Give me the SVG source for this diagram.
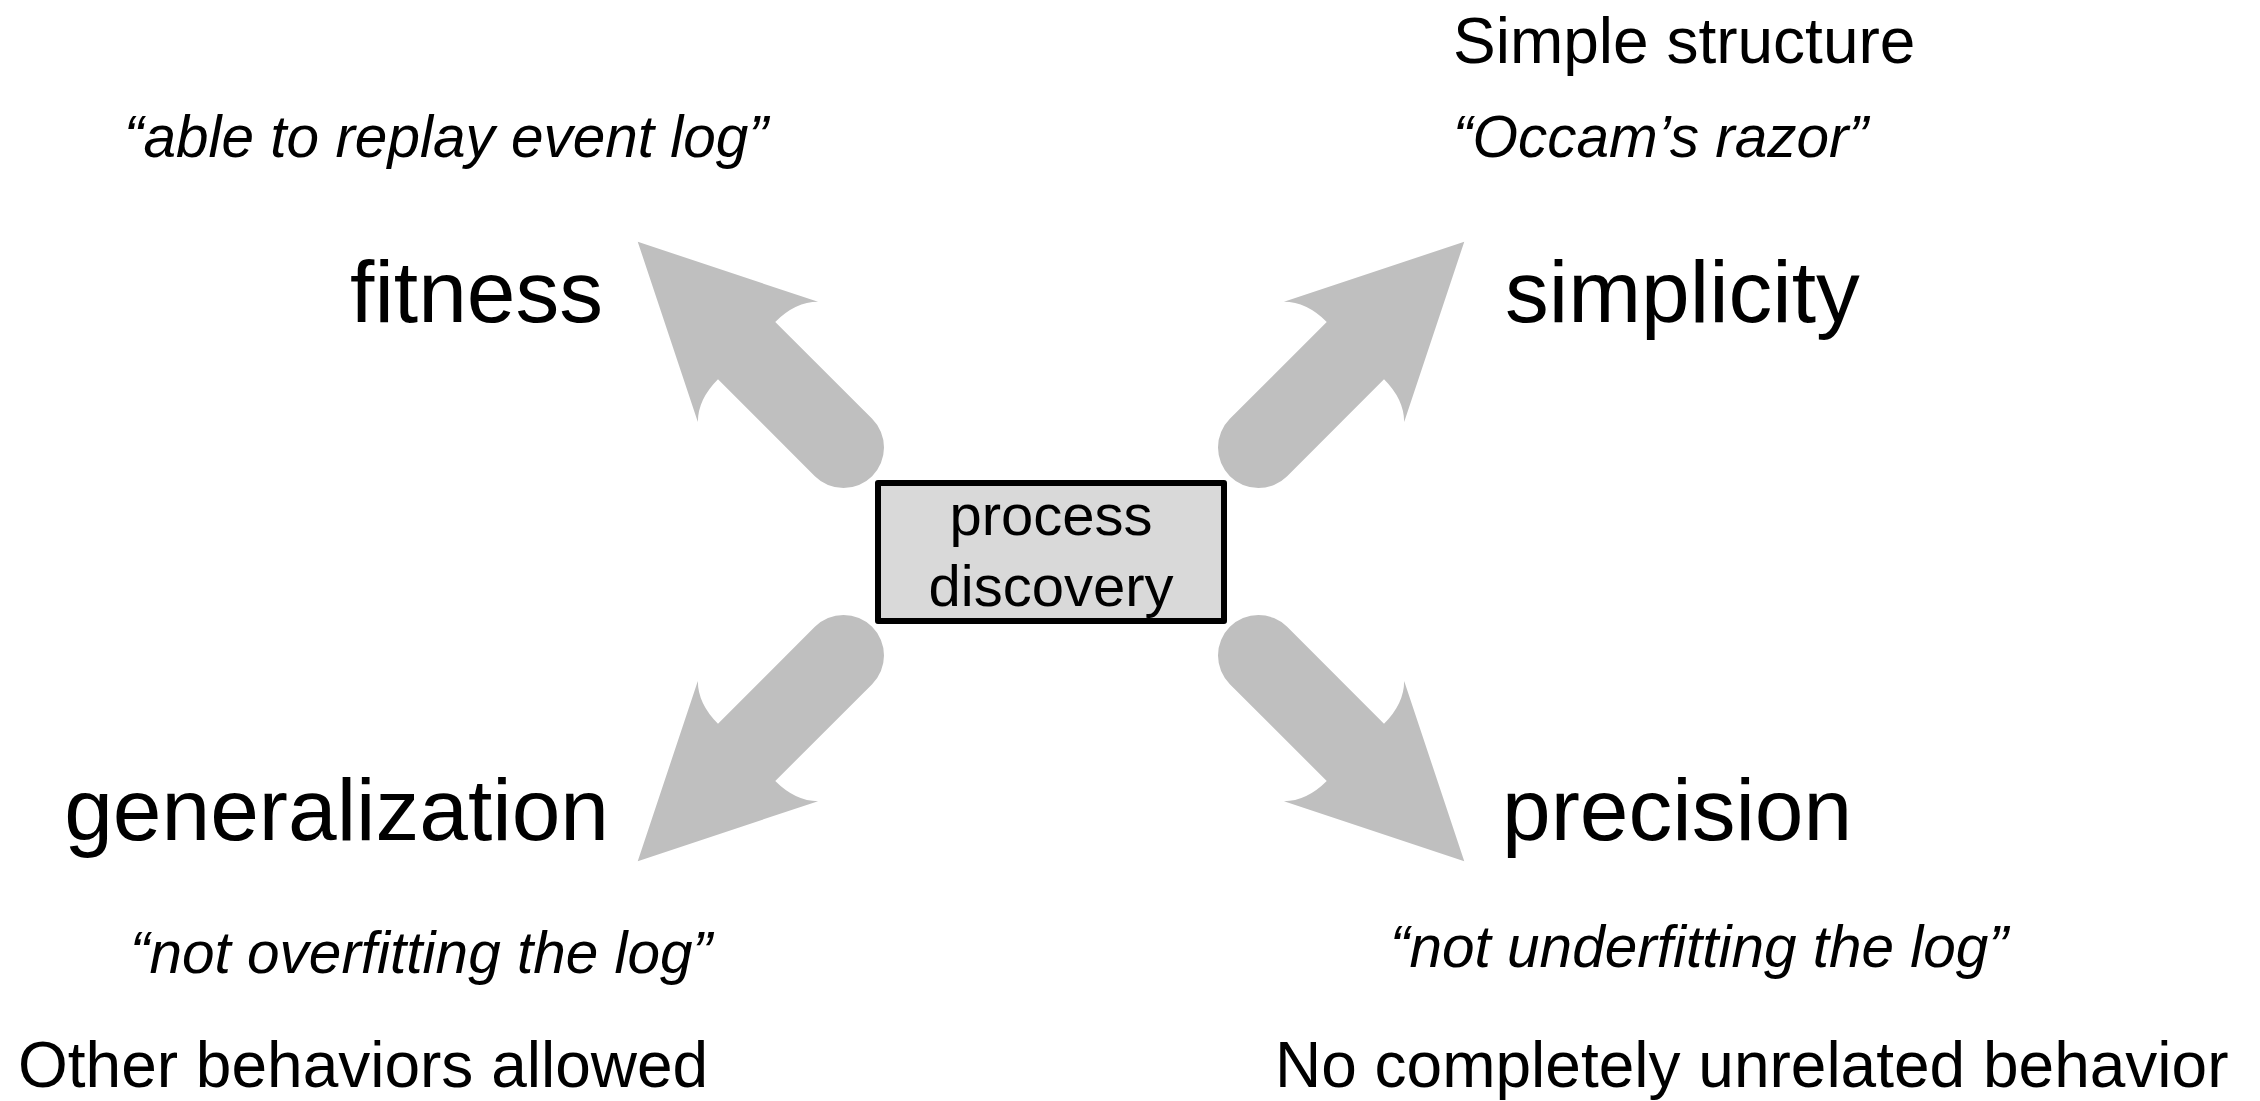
<svg xmlns="http://www.w3.org/2000/svg" width="2260" height="1101" viewBox="0 0 2260 1101">
  <defs>
    <style>
      .bg { fill: #ffffff; }
      .arrow { fill: #bfbfbf; stroke: none; }
      .box { fill: #d9d9d9; stroke: #000000; stroke-width: 6; stroke-linejoin: round; }
      text { font-family: "Liberation Sans", Arial, sans-serif; fill: #000000; }
      .big { font-size: 87.5px; }
      .quote { font-size: 58.5px; font-style: italic; }
      .note { font-size: 64px; }
      .boxtxt { font-size: 58px; text-anchor: middle; }
    </style>
    <path id="fatArrow" d="M 291 0 L 121 -85 Q 137 -69 137 -40.5 L 0 -40.5 A 40.5 40.5 0 0 0 0 40.5 L 137 40.5 Q 137 69 121 85 Z"/>
  </defs>
  <rect class="bg" x="0" y="0" width="2260" height="1101"/>

  <g id="connectors">
    <use class="arrow" href="#fatArrow" transform="translate(843.5,447.5) rotate(-135)"/>
    <use class="arrow" href="#fatArrow" transform="translate(1258.5,447.5) rotate(-45)"/>
    <use class="arrow" href="#fatArrow" transform="translate(843.5,655.5) rotate(135)"/>
    <use class="arrow" href="#fatArrow" transform="translate(1258.5,655.5) rotate(45)"/>
  </g>

  <g id="process-discovery">
    <rect class="box" x="878" y="483" width="346" height="138"/>
    <text class="boxtxt" x="1051" y="535">process</text>
    <text class="boxtxt" x="1051" y="606">discovery</text>
  </g>

  <g id="fitness">
    <text class="quote" x="124" y="157">“able to replay event log”</text>
    <text class="big" x="603" y="322" text-anchor="end">fitness</text>
  </g>

  <g id="simplicity">
    <text class="note" x="1453" y="63">Simple structure</text>
    <text class="quote" x="1453" y="157">“Occam’s razor”</text>
    <text class="big" x="1505" y="322">simplicity</text>
  </g>

  <g id="generalization">
    <text class="big" x="609" y="840" text-anchor="end">generalization</text>
    <text class="quote" x="130" y="973">“not overfitting the log”</text>
    <text class="note" x="18" y="1087">Other behaviors allowed</text>
  </g>

  <g id="precision">
    <text class="big" x="1502" y="840">precision</text>
    <text class="quote" x="1390" y="967">“not underfitting the log”</text>
    <text class="note" x="1275" y="1087">No completely unrelated behavior</text>
  </g>
</svg>
